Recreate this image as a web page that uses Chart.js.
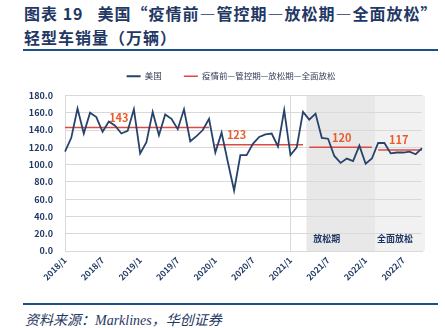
<!DOCTYPE html>
<html lang="zh">
<head>
<meta charset="UTF-8">
<title>美国轻型车销量</title>
<script src="https://cdn.jsdelivr.net/npm/chart.js"></script>
<style>
    * { margin: 0; padding: 0; box-sizing: border-box; }
    body { width: 445px; height: 328px; background: #fff; position: relative; overflow: hidden;
           font-family: 'Noto Sans CJK SC', sans-serif; }
    .title { position: absolute; left: 24px; color: #1F3864; font-size: 16px; font-weight: bold; line-height: 20px;
             letter-spacing: 1px; white-space: nowrap; }
    .rule { position: absolute; left: 23px; width: 415px; height: 2px; background: #1F4E8C; }
    .source { position: absolute; left: 25px; top: 309px; color: #1F3864; font-size: 14px; font-style: italic;
              font-family: 'Liberation Serif', 'Noto Sans CJK SC', serif; white-space: nowrap; }
    .chart-box { position: absolute; left: 0; top: 55px; width: 445px; height: 245px; }
</style>
</head>
<body>
<div class="title" style="top:3px">图表 19&nbsp;&nbsp;&nbsp;美国“疫情前—管控期—放松期—全面放松”</div>
<div class="title" style="top:27px">轻型车销量（万辆）</div>
<div class="rule" style="top:49px"></div>
<div class="chart-box"><canvas id="c"></canvas></div>
<div class="rule" style="top:303px"></div>
<div class="source">资料来源：Marklines，华创证券</div>

<script>
// months 2018/1 - 2022/10
const months = [
    '2018/1','2018/2','2018/3','2018/4','2018/5','2018/6','2018/7','2018/8','2018/9','2018/10','2018/11','2018/12',
    '2019/1','2019/2','2019/3','2019/4','2019/5','2019/6','2019/7','2019/8','2019/9','2019/10','2019/11','2019/12',
    '2020/1','2020/2','2020/3','2020/4','2020/5','2020/6','2020/7','2020/8','2020/9','2020/10','2020/11','2020/12',
    '2021/1','2021/2','2021/3','2021/4','2021/5','2021/6','2021/7','2021/8','2021/9','2021/10','2021/11','2021/12',
    '2022/1','2022/2','2022/3','2022/4','2022/5','2022/6','2022/7','2022/8','2022/9','2022/10'
];
const usSales = [
    115, 131, 165, 136, 160, 155, 138, 150, 145, 136, 139, 164,
    113, 126, 161, 134, 158, 153, 141, 164, 127, 133, 140, 153,
    114, 137, 103, 70, 111, 111, 124, 132, 135, 136, 121, 163,
    111, 120, 161, 152, 159, 131, 130, 110, 102, 107, 104, 122,
    101, 107, 125, 125, 113, 114, 114, 115, 112, 119
];
// 疫情前 / 管控期 / 放松期 / 全面放松
const periodNames = ['疫情前', '管控期', '放松期', '全面放松'];
const periodAvg = [143, 123, 120, 117];
const periodStart = ['2018/1', '2020/1', '2021/4', '2022/3'];
const periodEnd = ['2019/12', '2021/3', '2022/2', '2022/10'];
const yTicks = [0, 20, 40, 60, 80, 100, 120, 140, 160, 180];

const NAVY = '#27436B';
const RED = '#DC4A43';
const ORANGE = '#EA5B2B';
const FONT = "'Noto Sans CJK SC', sans-serif";

function avgLine(p) {
    const s = months.indexOf(periodStart[p]), e = months.indexOf(periodEnd[p]);
    return months.map((m, i) => (i >= s && i <= e) ? periodAvg[p] : null);
}

const datasets = [
    { label: '美国', data: usSales, borderColor: NAVY, backgroundColor: NAVY, borderWidth: 1.8 },
    { label: periodNames.join('—'), data: avgLine(0), borderColor: RED, backgroundColor: RED, borderWidth: 1.5 },
    { label: '', data: avgLine(1), borderColor: RED, borderWidth: 1.5 },
    { label: '', data: avgLine(2), borderColor: RED, borderWidth: 1.5 },
    { label: '', data: avgLine(3), borderColor: RED, borderWidth: 1.5 }
];

// grey background for 放松期 and 全面放松, plus their captions and the average labels
const periodPlugin = {
    id: 'periods',
    afterLayout(chart) {
        // legend sits a little right of the canvas centre
        chart.legend.left += 20;
        chart.legend.right += 20;
        chart.legend.top -= 5;
        chart.legend.bottom -= 5;
    },
    beforeDraw(chart) {
        const { ctx, chartArea: a, scales: { x } } = chart;
        const s2 = months.indexOf(periodStart[2]) - 0.45;
        const s3 = months.indexOf(periodStart[3]) - 0.5;
        ctx.save();
        ctx.fillStyle = '#E8E8E8';
        ctx.fillRect(x.getPixelForValue(s2), a.top, x.getPixelForValue(s3) - x.getPixelForValue(s2), a.bottom - a.top);
        ctx.fillStyle = '#F1F1F1';
        ctx.fillRect(x.getPixelForValue(s3), a.top, a.right + 3 - x.getPixelForValue(s3), a.bottom - a.top);
        ctx.restore();
    },
    afterDatasetsDraw(chart) {
        const { ctx, scales: { x, y } } = chart;
        const labelAt = [8.6, 27.4, 44.2, 53.3];
        ctx.save();
        ctx.textAlign = 'center';
        ctx.textBaseline = 'middle';
        ctx.font = 'bold 11px ' + FONT;
        ctx.fillStyle = ORANGE;
        periodAvg.forEach((v, p) => {
            ctx.fillText(String(v), x.getPixelForValue(labelAt[p]), y.getPixelForValue(v) - 10);
        });
        ctx.font = 'bold 9px ' + FONT;
        ctx.fillStyle = '#1F3864';
        ctx.fillText(periodNames[2], x.getPixelForValue(41.8), y.getPixelForValue(14));
        ctx.fillText(periodNames[3], x.getPixelForValue(52.7), y.getPixelForValue(14));
        ctx.restore();
    }
};

new Chart(document.getElementById('c'), {
    type: 'line',
    data: { labels: months, datasets: datasets },
    options: {
        responsive: true,
        maintainAspectRatio: false,
        animation: false,
        layout: { padding: { left: 0, right: 23, top: 0, bottom: 0 } },
        elements: { point: { radius: 0 }, line: { tension: 0 } },
        plugins: {
            tooltip: { enabled: false },
            legend: {
                position: 'top',
                labels: {
                    filter: item => item.text !== '',
                    usePointStyle: true,
                    pointStyle: 'line',
                    pointStyleWidth: 14,
                    color: '#2E3B55',
                    font: { family: FONT, size: 8.5 },
                    padding: 22
                }
            }
        },
        scales: {
            x: {
                offset: false,
                grid: {
                    drawTicks: false,
                    color: c => (c.index % 6 === 0 ? '#D9D9D9' : 'rgba(0,0,0,0)')
                },
                border: { color: '#D9D9D9' },
                ticks: {
                    autoSkip: false,
                    minRotation: 45,
                    maxRotation: 45,
                    padding: 4,
                    color: '#1F3864',
                    font: { family: FONT, size: 8.5, weight: 'bold' },
                    callback: function (v, i) { return i % 6 === 0 ? months[i] : null; }
                },
                afterFit: s => { s.height = 49; }
            },
            y: {
                min: 0,
                max: 180,
                afterBuildTicks: s => { s.ticks = yTicks.map(v => ({ value: v })); },
                grid: { drawTicks: false, color: '#D9D9D9' },
                border: { display: false },
                ticks: {
                    padding: 12,
                    color: '#1F3864',
                    font: { family: FONT, size: 9, weight: 'bold' },
                    callback: v => v.toFixed(1)
                },
                afterFit: s => { s.width = 65; }
            }
        }
    },
    plugins: [periodPlugin]
});
</script>
</body>
</html>
